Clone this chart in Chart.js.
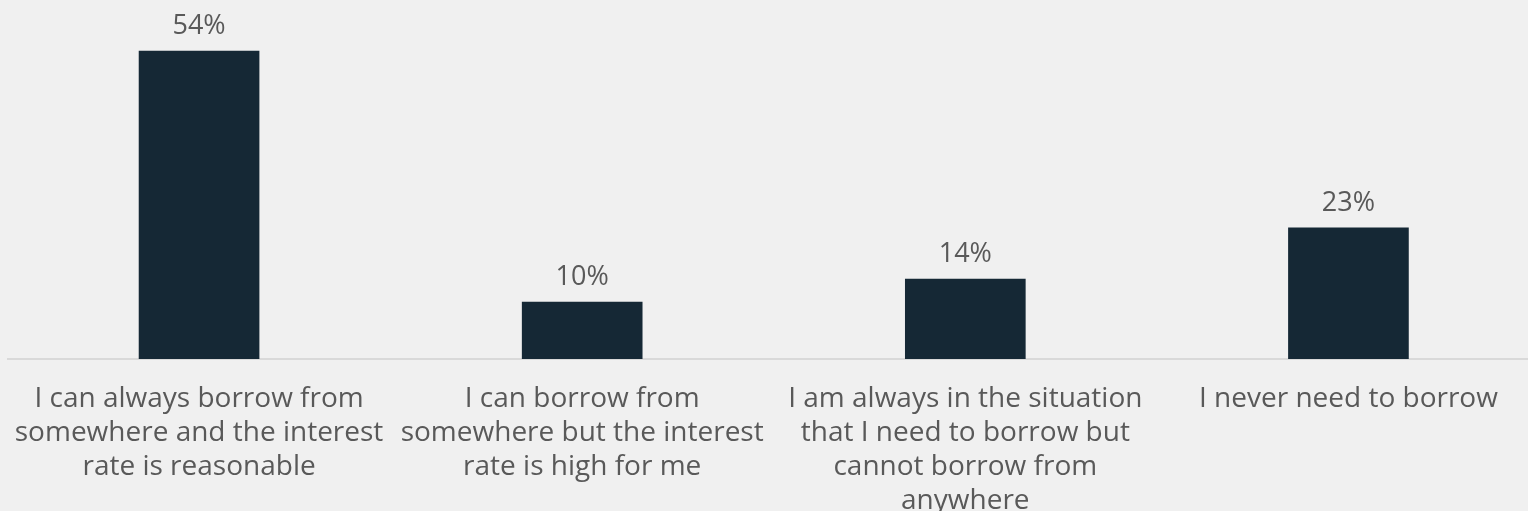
<!DOCTYPE html>
<html>
<head>
<meta charset="utf-8">
<script src="https://cdn.jsdelivr.net/npm/chart.js@4"></script>
<style>
  html, body { margin: 0; padding: 0; background: #f0f0f0; overflow: hidden; }
  #wrap { position: absolute; left: 0; top: 0; width: 1540px; height: 511px; }
</style>
</head>
<body>
<div id="wrap"><canvas id="c"></canvas></div>
<script>
const categories = [
  ["I can always borrow from", "somewhere and the interest", "rate is reasonable"],
  ["I can borrow from", "somewhere but the interest", "rate is high for me"],
  ["I am always in the situation", "that I need to borrow but", "cannot borrow from", "anywhere"],
  ["I never need to borrow"]
];
const values = [54, 10, 14, 23];
const valueLabels = ["54%", "10%", "14%", "23%"];

const FONT = "'Open Sans', Lato, sans-serif";
const TEXT = "#595959";

const valueLabelPlugin = {
  id: 'valueLabels',
  afterDatasetsDraw(chart) {
    const ctx = chart.ctx;
    const meta = chart.getDatasetMeta(0);
    ctx.save();
    ctx.font = "27px " + FONT;
    ctx.fillStyle = TEXT;
    ctx.textAlign = 'center';
    ctx.textBaseline = 'alphabetic';
    meta.data.forEach((bar, i) => {
      ctx.fillText(valueLabels[i], bar.x, bar.y - 17);
    });
    ctx.restore();
  }
};

new Chart(document.getElementById('c'), {
  type: 'bar',
  data: {
    labels: categories,
    datasets: [{
      data: values,
      backgroundColor: '#152835',
      borderWidth: 0,
      barThickness: 120
    }]
  },
  options: {
    responsive: true,
    maintainAspectRatio: false,
    animation: false,
    layout: { padding: { left: 7.5, right: 0, top: 17, bottom: 0 } },
    plugins: { legend: { display: false }, tooltip: { enabled: false } },
    scales: {
      x: {
        grid: { display: false, drawTicks: false },
        border: { display: true, color: '#d9d9d9', width: 2 },
        ticks: {
          color: TEXT,
          font: { family: FONT, size: 28, lineHeight: 1.215 },
          padding: 23,
          maxRotation: 0,
          autoSkip: false
        },
        afterFit(scale) {
          scale.height = 152;
          scale.paddingLeft = 0;
          scale.paddingRight = 0;
        }
      },
      y: {
        display: false,
        min: 0,
        max: 60
      }
    }
  },
  plugins: [valueLabelPlugin]
});
</script>
</body>
</html>
